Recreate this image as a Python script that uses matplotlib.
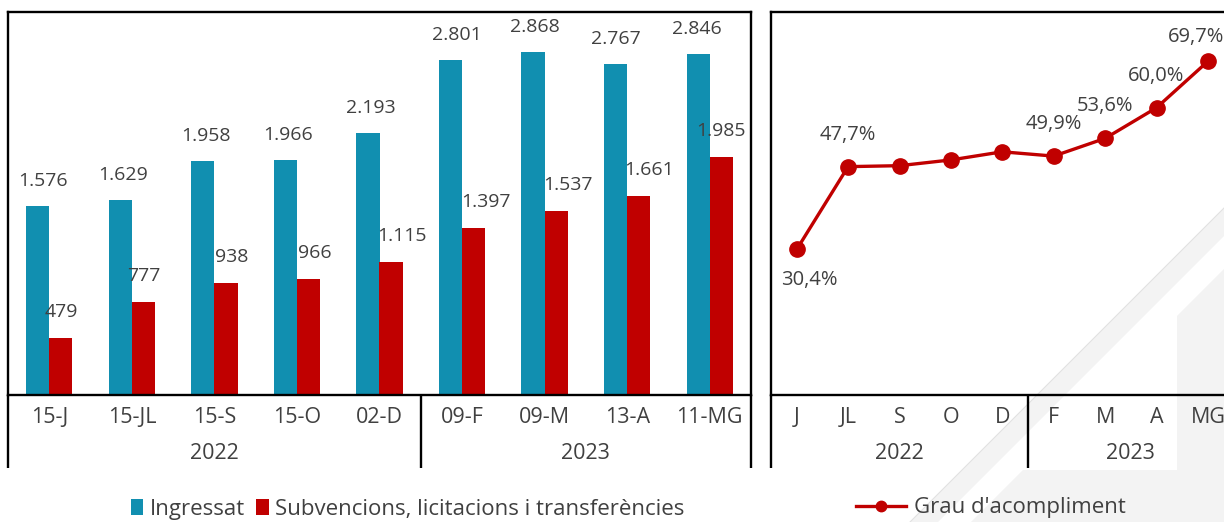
import matplotlib
matplotlib.use("Agg")
import matplotlib.pyplot as plt
from matplotlib.patches import Polygon, Patch
from matplotlib.lines import Line2D
import matplotlib.transforms as mtransforms

plt.rcParams['font.family'] = ['Open Sans', 'DejaVu Sans']

# ---------------- data ----------------
bar_categories = ["15-J", "15-JL", "15-S", "15-O", "02-D", "09-F", "09-M", "13-A", "11-MG"]
line_categories = ["J", "JL", "S", "O", "D", "F", "M", "A", "MG"]
years = ["2022", "2023"]
year_counts = [5, 4]
ingressat = [1576, 1629, 1958, 1966, 2193, 2801, 2868, 2767, 2846]
subvencions = [479, 777, 938, 966, 1115, 1397, 1537, 1661, 1985]
grau = [30.4, 47.7, 47.9, 49.1, 50.8, 49.9, 53.6, 60.0, 69.7]
grau_labeled = [True, True, False, False, False, True, True, True, True]
series_names = ["Ingressat", "Subvencions, licitacions i transferències"]
line_name = "Grau d'acompliment"

BLUE = "#118FB0"
RED = "#C00000"
TXT = "#404040"
W, H = 1224, 522
FS = 14        # data labels
FS_CAT = 15.5  # category / year labels
FS_LEG = 16    # legends

fig = plt.figure(figsize=(W / 100, H / 100), dpi=100)
fig.patch.set_facecolor("white")


def fx(x):
    return x / W


def fy(y):
    return 1 - y / H


def poly(pts, **kw):
    p = Polygon([(fx(x), fy(y)) for x, y in pts], closed=True,
                transform=fig.transFigure, **kw)
    fig.add_artist(p)
    return p


# decorative background shapes
poly([(971, 522), (1023, 470), (1177, 470), (1177, 316), (1224, 269), (1224, 522)],
     facecolor="#f3f3f3", edgecolor="none", zorder=-2)
poly([(910, 522), (1224, 208), (1224, 236), (938, 522)],
     facecolor="#f3f3f3", edgecolor="none", zorder=-1)
fig.add_artist(Line2D([fx(910), fx(1224)], [fy(522), fy(208)], transform=fig.transFigure,
                      color="#e2e2e2", lw=0.8, zorder=-1))

# axes positions
bottom = fy(395)
height = (395 - 12) / H
ax1 = fig.add_axes([fx(8), bottom, (751 - 8) / W, height])
ax2 = fig.add_axes([fx(771), bottom, 9 * 51.4 / W, height])

for ax in (ax1, ax2):
    ax.set_facecolor("none")
    for s in ax.spines.values():
        s.set_linewidth(1.7)
        s.set_color("black")
    ax.set_xticks([])
    ax.set_yticks([])
    ax.set_xlim(-0.5, len(bar_categories) - 0.5)

# ---------------- bar chart ----------------
x = list(range(len(bar_categories)))
bw = 0.28
ax1.set_ylim(0, 3200)
ax1.bar([i - bw / 2 for i in x], ingressat, bw, color=BLUE, zorder=2)
ax1.bar([i + bw / 2 for i in x], subvencions, bw, color=RED, zorder=2)


def fmt(v):
    return f"{v:,}".replace(",", ".")


blue_dx = [5, 3, 3, 3, 3, 6, 2, 0, -1]
red_dx = [0, 0, 6, 6, 11, 12, 12, 10, 0]
for i, v in enumerate(ingressat):
    ax1.annotate(fmt(v), (i - bw / 2, v), xytext=(blue_dx[i], 25), textcoords="offset pixels",
                 ha="center", va="center", fontsize=FS, color=TXT)
for i, v in enumerate(subvencions):
    ax1.annotate(fmt(v), (i + bw / 2, v), xytext=(red_dx[i], 26), textcoords="offset pixels",
                 ha="center", va="center", fontsize=FS, color=TXT)


def category_axis(ax, labels):
    tr = mtransforms.blended_transform_factory(ax.transData, ax.transAxes)
    for i, lab in enumerate(labels):
        ax.text(i, -0.06, lab, transform=tr, ha="center", va="center",
                fontsize=FS_CAT, color=TXT)
    start = 0
    seps = [-0.5]
    for yr, n in zip(years, year_counts):
        ax.text(start + (n - 1) / 2, -0.152, yr, transform=tr, ha="center", va="center",
                fontsize=FS_CAT, color=TXT)
        start += n
        seps.append(start - 0.5)
    for s in seps:
        ax.plot([s, s], [0, -0.19], transform=tr, color="black", lw=1.7,
                clip_on=False, solid_capstyle="butt")


category_axis(ax1, bar_categories)

# ---------------- line chart ----------------
ax2.set_ylim(0, 80)
ax2.plot(x, grau, color=RED, lw=2.4, marker="o", markersize=11, zorder=3, clip_on=False)
offsets = {0: (13, -31), 8: (-12, 24)}
for i, (v, show) in enumerate(zip(grau, grau_labeled)):
    if not show:
        continue
    dx, dy = offsets.get(i, (0, 32))
    ax2.annotate(f"{v:.1f}%".replace(".", ","), (i, v), xytext=(dx, dy),
                 textcoords="offset pixels", ha="center", va="center",
                 fontsize=14.5, color=TXT)
category_axis(ax2, line_categories)

# ---------------- legends ----------------
h1 = [Patch(facecolor=BLUE), Patch(facecolor=RED)]
fig.legend(h1, series_names, loc="center", bbox_to_anchor=(fx(408), fy(509)),
           ncol=2, frameon=False, fontsize=FS_LEG, handlelength=0.55, handleheight=0.75,
           handletextpad=0.3, columnspacing=0.5, labelcolor=TXT)
h2 = [Line2D([], [], color=RED, lw=2.4, marker="o", markersize=7.5)]
fig.legend(h2, [line_name], loc="center", bbox_to_anchor=(fx(991), fy(508)),
           frameon=False, fontsize=FS_LEG, handlelength=2.25, handletextpad=0.36,
           labelcolor=TXT)

fig.savefig("out.png", dpi=100, facecolor="white")
